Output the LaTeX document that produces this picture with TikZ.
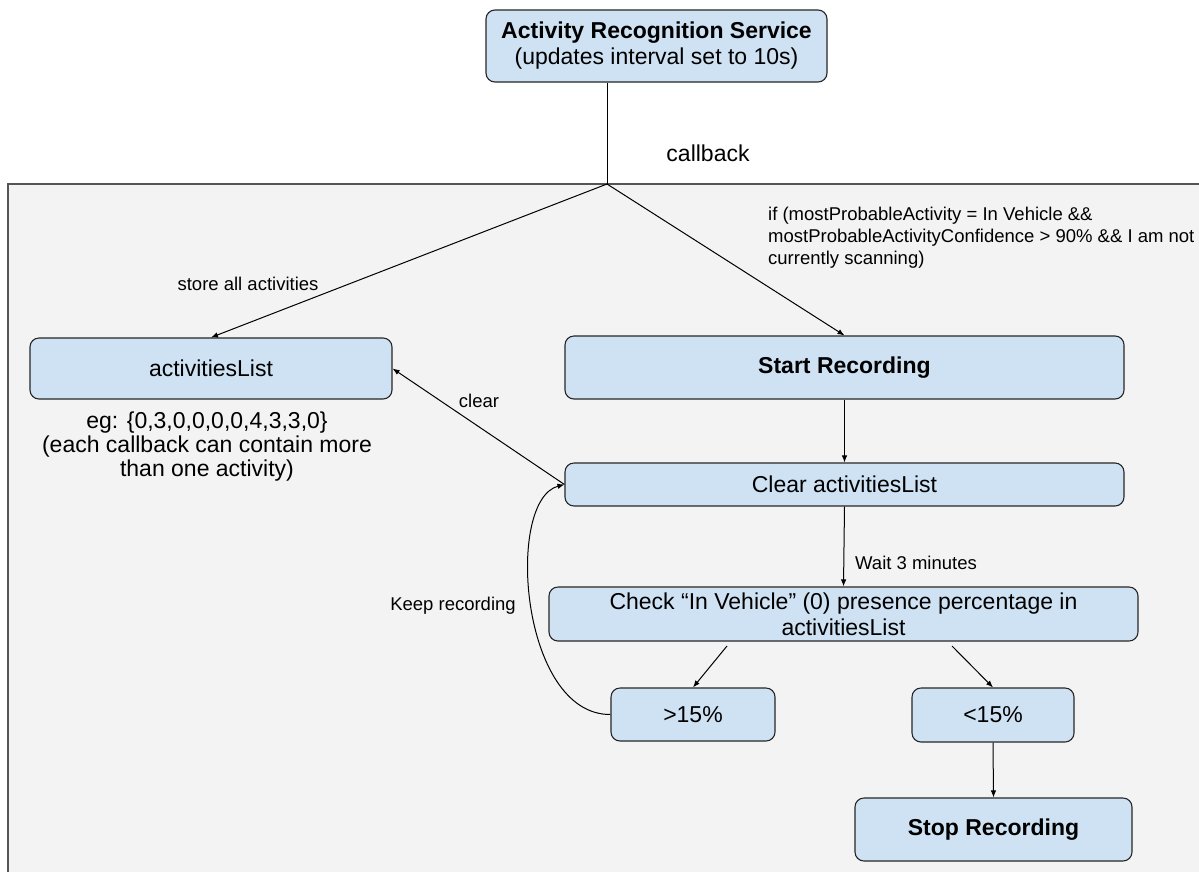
\documentclass[tikz,border=0pt]{standalone}
\usepackage{fontspec}
\setmainfont{Liberation Sans}
\usetikzlibrary{arrows.meta}
\definecolor{boxfill}{HTML}{CFE2F3}
\definecolor{panelfill}{HTML}{F3F3F3}
\definecolor{panelline}{HTML}{555555}
\definecolor{boxline}{HTML}{262626}
\newcommand\mainfnt{\fontsize{23}{26}\selectfont}
\newcommand\notefnt{\fontsize{23}{24}\selectfont}
\newcommand\lblfnt{\fontsize{18.5}{22}\selectfont}
\begin{document}
\begin{tikzpicture}[x=1pt,y=-1pt,
  box/.style={draw=boxline, fill=boxfill, rounded corners=9pt, line width=1.1pt,
    inner sep=0pt, align=center, font=\mainfnt},
  lbl/.style={inner sep=0pt, font=\lblfnt},
  txt/.style={inner sep=0pt, align=center, font=\mainfnt},
  wire/.style={line width=1pt, draw=black},
  conn/.style={wire, -{Latex[length=7pt,width=5.5pt]}}]

% page and grey container panel
\useasboundingbox (0,0) rectangle (1199,871);
\clip (0,0) rectangle (1199,871);
\fill[white] (0,0) rectangle (1199,871);
\draw[fill=panelfill, draw=panelline, line width=1.6pt] (8,184) rectangle (1220,890);

% boxes
\node[box, minimum width=341pt, minimum height=72pt] (ars) at (656.5,46)
  {\textbf{Activity Recognition Service}\\(updates interval set to 10s)};
\node[box, minimum width=362pt, minimum height=61pt] (actlist) at (211,368.5) {activitiesList};
\node[box, minimum width=559pt, minimum height=63pt] (start) at (844.5,367.5) {\textbf{Start Recording}};
\node[box, minimum width=559pt, minimum height=43pt] (clearl) at (844.5,484.5) {Clear activitiesList};
\node[box, minimum width=589pt, minimum height=54pt] (check) at (843.5,614)
  {Check “In Vehicle” (0) presence percentage in\\activitiesList};
\node[box, minimum width=164pt, minimum height=53pt] (gt) at (693,714.5) {>15\%};
\node[box, minimum width=162pt, minimum height=54pt] (lt) at (993,715) {<15\%};
\node[box, minimum width=277pt, minimum height=63pt] (stop) at (993.5,829.5) {\textbf{Stop Recording}};

% free texts
\node[txt] (cbl) at (708,153) {callback};
\node[txt, font=\notefnt] (egtxt) at (207,447) {eg: \{0,3,0,0,0,0,4,3,3,0\}\\(each callback can contain more\\than one activity)};

% connector ends
\coordinate (split) at (607,184);
\coordinate (chkl) at (727,646);
\coordinate (chkr) at (952,646);

% connectors
\draw[wire] (split |- ars.south) -- (split);
\draw[conn] (split) -- (actlist.north);
\node[lbl] (store) at (248,284) {store all activities};
\draw[conn] (split) -- (start.north);
\node[lbl, anchor=west, align=left] (cond) at (768,238)
  {if (mostProbableActivity = In Vehicle \&\&\\mostProbableActivityConfidence > 90\% \&\& I am not\\currently scanning)};
\draw[conn] (start.south) -- (clearl.north);
\draw[conn] (clearl.west) -- (actlist.east);
\node[lbl] (clr) at (479,401) {clear};
\draw[conn] (clearl.south) -- (check.north);
\node[lbl, anchor=west] (wait) at (855,563) {Wait 3 minutes};
\draw[conn] (chkl) -- (gt.north);
\draw[conn] (chkr) -- (lt.north);
\draw[conn] (lt.south) -- (stop.north);
\draw[conn] (gt.west) .. controls (520,715) and (505,500) .. (clearl.west);
\node[lbl] (keep) at (453,606) {Keep recording};
\end{tikzpicture}
\end{document}
